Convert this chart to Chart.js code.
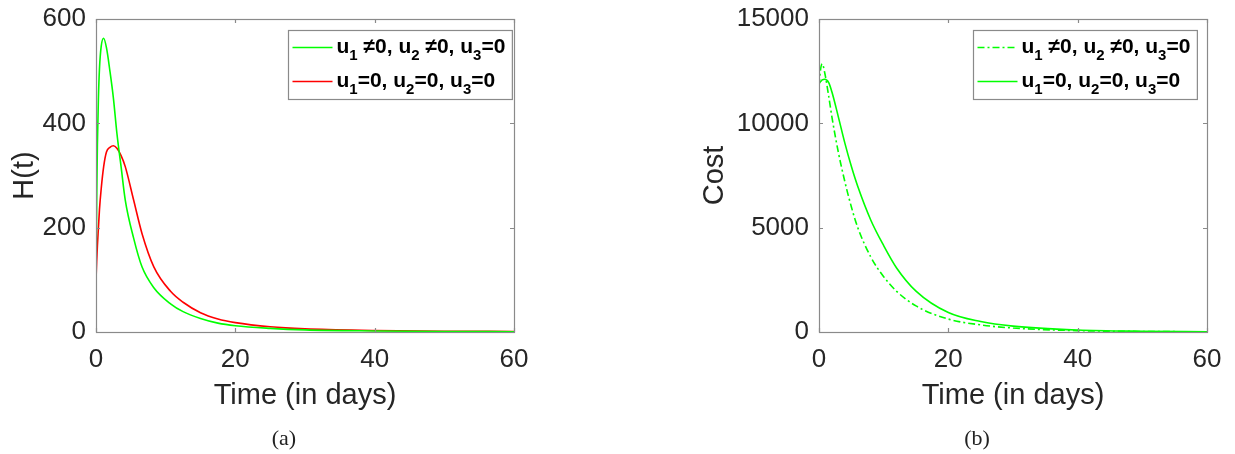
<!DOCTYPE html>
<html>
<head>
<meta charset="utf-8">
<script src="https://cdn.jsdelivr.net/npm/chart.js@4.4.1/dist/chart.umd.min.js"></script>
<style>
  body { margin: 0; background: #fff; width: 1235px; height: 454px; overflow: hidden; position: relative; }
  canvas { position: absolute; top: 0; }
  .cap { position: absolute; top: 425px; width: 60px; text-align: center; font: 22px "Liberation Serif", "DejaVu Serif", serif; color: #222; }
</style>
</head>
<body>
<canvas id="chartA" width="560" height="454" style="left:0px"></canvas>
<canvas id="chartB" width="575" height="454" style="left:660px"></canvas>
<div class="cap" style="left:254px">(a)</div>
<div class="cap" style="left:947px">(b)</div>
<script>
// --- data ---
// (a) H(t)
var hTime = [0, 0.1, 0.2, 0.35, 0.5, 0.75, 1.1, 1.5, 2, 2.5, 3, 3.6, 4.2, 5.4, 6.6, 8.3, 10.7, 12.5, 15, 17.5, 20, 25, 30, 40, 50, 60];
var hControl = [100, 250, 360, 450, 505, 548, 563, 545, 500, 448, 381, 317, 253, 180, 125, 85, 54, 39, 26, 17, 12, 7, 4, 2, 1, 0.5];
var hNoControl = [100, 135, 165, 200, 235, 275, 317, 345, 354, 357, 352, 338, 317, 253, 189, 125, 78, 57, 37, 25, 18, 10, 6, 3, 1.5, 1];
var hLabels = ['u_1 ≠0, u_2 ≠0, u_3=0', 'u_1=0, u_2=0, u_3=0'];
var hTicksY = [0, 200, 400, 600];

// (b) Cost
var costTime = [0, 0.25, 0.5, 0.9, 1.5, 2, 3, 4, 5, 6, 8, 10, 12, 15, 20, 25, 30, 40, 50, 60];
var costControl = [11800, 12600, 12850, 12400, 11300, 10300, 8600, 7200, 6000, 5000, 3600, 2650, 1950, 1250, 620, 340, 190, 65, 25, 10];
var costNoControl = [11900, 12000, 12080, 12110, 11950, 11500, 10300, 9050, 7940, 6970, 5370, 4140, 3070, 1960, 930, 500, 280, 95, 35, 12];
var costLabels = ['u_1 ≠0, u_2 ≠0, u_3=0', 'u_1=0, u_2=0, u_3=0'];
var costTicksY = [0, 5000, 10000, 15000];

var timeTicks = [0, 20, 40, 60];

var GREEN = '#00ff00';
var RED = '#ff0000';
var AXIS = '#8a8a8a';
var TEXT = '#262626';
var FONT = "'Liberation Sans', Arial, sans-serif";

function toPoints(xs, ys) {
    return xs.map(function(x, i) { return { x: x, y: ys[i] }; });
}

// split 'u_1=0' into normal / subscript pieces
function splitSub(label) {
    var parts = [];
    var re = /_(\d)/g, last = 0, m;
    while ((m = re.exec(label)) !== null) {
        if (m.index > last) parts.push({ t: label.slice(last, m.index), sub: false });
        parts.push({ t: m[1], sub: true });
        last = re.lastIndex;
    }
    if (last < label.length) parts.push({ t: label.slice(last), sub: false });
    return parts;
}

// MATLAB style box round the axes with inward ticks
var boxPlugin = {
    id: 'boxPlugin',
    afterDatasetsDraw: function(chart) {
        var ctx = chart.ctx, a = chart.chartArea;
        var sx = chart.scales.x, sy = chart.scales.y;
        ctx.save();
        ctx.strokeStyle = AXIS;
        ctx.lineWidth = 1.2;
        ctx.strokeRect(Math.round(a.left) + 0.5, Math.round(a.top) + 0.5, Math.round(a.right - a.left), Math.round(a.bottom - a.top));
        ctx.beginPath();
        sx.ticks.forEach(function(t) {
            var px = Math.round(sx.getPixelForValue(t.value)) + 0.5;
            ctx.moveTo(px, a.bottom); ctx.lineTo(px, a.bottom - 4);
            ctx.moveTo(px, a.top); ctx.lineTo(px, a.top + 4);
        });
        sy.ticks.forEach(function(t) {
            var py = Math.round(sy.getPixelForValue(t.value)) + 0.5;
            ctx.moveTo(a.left, py); ctx.lineTo(a.left + 4, py);
            ctx.moveTo(a.right, py); ctx.lineTo(a.right - 4, py);
        });
        ctx.stroke();
        ctx.restore();
    }
};

// legend drawn inside the axes, top right corner
var legendPlugin = {
    id: 'legendBox',
    afterDraw: function(chart, args, opts) {
        var ctx = chart.ctx, a = chart.chartArea;
        var big = 'bold 21px ' + FONT, small = 'bold 15px ' + FONT;
        var rows = chart.data.datasets.map(function(ds, i) {
            var parts = splitSub(opts.labels[i]);
            var w = 0;
            parts.forEach(function(p) {
                ctx.font = p.sub ? small : big;
                p.w = ctx.measureText(p.t).width;
                w += p.w;
            });
            return { ds: ds, parts: parts, w: w };
        });
        var textW = Math.max.apply(null, rows.map(function(r) { return r.w; }));
        var boxW = 4 + 40 + 4 + textW + 7;
        var boxH = 69;
        var x0 = Math.round(a.right - opts.inset - boxW) + 0.5;
        var y0 = Math.round(a.top + 11) + 0.5;
        ctx.save();
        ctx.fillStyle = '#fff';
        ctx.fillRect(x0, y0, boxW, boxH);
        ctx.strokeStyle = AXIS;
        ctx.lineWidth = 1.2;
        ctx.strokeRect(x0, y0, boxW, boxH);
        rows.forEach(function(r, i) {
            var ly = y0 + 17 + i * 34;
            ctx.strokeStyle = r.ds.borderColor;
            ctx.lineWidth = r.ds.borderWidth;
            ctx.setLineDash(r.ds.borderDash || []);
            ctx.beginPath();
            ctx.moveTo(x0 + 4, ly);
            ctx.lineTo(x0 + 44, ly);
            ctx.stroke();
            ctx.setLineDash([]);
            var tx = x0 + 48, base = ly + 5;
            ctx.fillStyle = '#000';
            ctx.textBaseline = 'alphabetic';
            ctx.textAlign = 'left';
            r.parts.forEach(function(p) {
                ctx.font = p.sub ? small : big;
                ctx.fillText(p.t, tx, p.sub ? base + 7 : base);
                tx += p.w;
            });
        });
        ctx.restore();
    }
};

function makeChart(id, cfg) {
    var ctx = document.getElementById(id).getContext('2d');
    return new Chart(ctx, {
        type: 'scatter',
        data: { datasets: cfg.datasets },
        options: {
            responsive: false,
            animation: false,
            devicePixelRatio: 1,
            layout: { padding: { left: 0, top: 19, right: cfg.padRight, bottom: 0 } },
            elements: { point: { radius: 0 } },
            plugins: {
                legend: { display: false },
                tooltip: { enabled: false },
                legendBox: { labels: cfg.labels, inset: cfg.legendInset }
            },
            scales: {
                x: {
                    type: 'linear',
                    min: 0, max: 60,
                    afterBuildTicks: function(s) { s.ticks = timeTicks.map(function(v) { return { value: v }; }); },
                    afterFit: function(s) { s.height = 122; },
                    grid: { display: false, drawTicks: false },
                    border: { display: false },
                    ticks: { color: TEXT, padding: 12, maxRotation: 0, font: { family: FONT, size: 26 },
                             callback: function(v) { return String(v); } },
                    title: { display: true, text: 'Time (in days)', color: TEXT, padding: { top: 0, bottom: 41 }, font: { family: FONT, size: 29 } }
                },
                y: {
                    type: 'linear',
                    min: cfg.ticksY[0], max: cfg.ticksY[cfg.ticksY.length - 1],
                    afterBuildTicks: function(s) { s.ticks = cfg.ticksY.map(function(v) { return { value: v }; }); },
                    afterFit: function(s) { s.width = cfg.yWidth; s.paddingTop = 0; s.paddingBottom = 0; },
                    grid: { display: false, drawTicks: false },
                    border: { display: false },
                    ticks: { color: TEXT, padding: 10, font: { family: FONT, size: 26 },
                             callback: function(v) { return String(v); } },
                    title: { display: true, text: cfg.yTitle, color: TEXT, padding: { top: cfg.yTitlePad, bottom: 0 }, font: { family: FONT, size: 29 } }
                }
            }
        },
        plugins: [boxPlugin, legendPlugin]
    });
}

function line(label, xs, ys, color, dash) {
    return {
        label: label,
        data: toPoints(xs, ys),
        showLine: true,
        borderColor: color,
        backgroundColor: color,
        borderWidth: 1.6,
        borderDash: dash || [],
        cubicInterpolationMode: 'monotone',
        fill: false
    };
}

makeChart('chartA', {
    datasets: [
        line(hLabels[0], hTime, hControl, GREEN),
        line(hLabels[1], hTime, hNoControl, RED)
    ],
    labels: hLabels,
    ticksY: hTicksY,
    yTitle: 'H(t)',
    yWidth: 96,
    yTitlePad: 8,
    padRight: 46,
    legendInset: 2
});

makeChart('chartB', {
    datasets: [
        line(costLabels[0], costTime, costControl, GREEN, [7, 3, 2, 3]),
        line(costLabels[1], costTime, costNoControl, GREEN)
    ],
    labels: costLabels,
    ticksY: costTicksY,
    yTitle: 'Cost',
    yWidth: 159,
    yTitlePad: 38,
    padRight: 28,
    legendInset: 10
});
</script>
</body>
</html>
